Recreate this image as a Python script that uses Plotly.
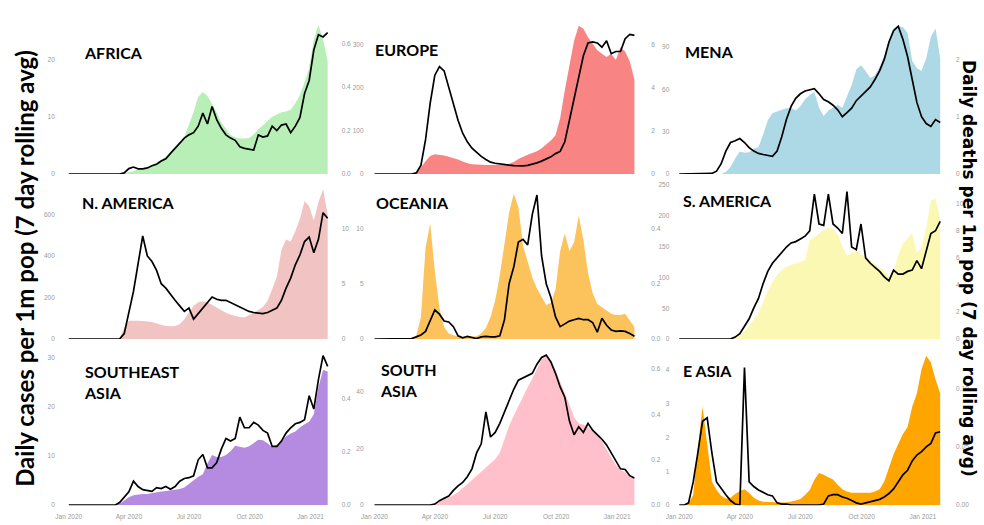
import plotly.graph_objects as go
import pandas as pd

# ---------------- data (weekly samples, 1 Jan 2020 .. 27 Jan 2021) ----------------
dates = pd.date_range("2020-01-01", periods=57, freq="7D")
tick_dates = ["2020-01-01", "2020-04-01", "2020-07-01", "2020-10-01", "2021-01-01"]
tick_text = ["Jan 2020", "Apr 2020", "Jul 2020", "Oct 2020", "Jan 2021"]

regions = ["AFRICA", "EUROPE", "MENA", "N. AMERICA", "OCEANIA", "S. AMERICA",
           "SOUTHEAST<br>ASIA", "SOUTH<br>ASIA", "E ASIA"]

africa_cases = [0]*12 + [0.1, 0.3, 0.5, 0.7, 0.9, 1.2, 1.6, 2.0, 2.5, 3.0, 3.8, 4.6, 5.5, 6.5, 8.5, 10.8,
                13.5, 14.3, 13.6, 12.3, 10.8, 9.0, 7.8, 6.8, 6.4, 6.2, 6.2, 6.3, 6.9, 7.8, 8.5, 9.2,
                10.0, 10.4, 10.8, 10.9, 11.2, 12.3, 13.8, 16.0, 18.5, 23.5, 26.0, 23.5, 19.7]
africa_deaths = [0]*12 + [0.005, 0.025, 0.032, 0.024, 0.024, 0.028, 0.038, 0.045, 0.06, 0.07, 0.095, 0.12,
                 0.14, 0.165, 0.18, 0.19, 0.22, 0.28, 0.23, 0.31, 0.25, 0.21, 0.18, 0.165, 0.155, 0.125,
                 0.118, 0.115, 0.11, 0.18, 0.17, 0.175, 0.22, 0.2, 0.225, 0.23, 0.19, 0.22, 0.26, 0.37,
                 0.43, 0.57, 0.64, 0.63, 0.65]

europe_cases = [0]*9 + [3, 15, 30, 42, 46, 45, 43, 40, 37, 34, 29, 25, 23, 22, 21.5, 21, 21, 21, 21, 22,
                24, 28, 35, 41, 45, 49, 53, 60, 68, 78, 90, 130, 195, 250, 310, 345, 338, 318, 302,
                288, 280, 272, 280, 265, 295, 285, 262, 220]
europe_deaths = [0]*9 + [0.05, 0.4, 1.6, 3.3, 4.6, 5.0, 4.8, 4.0, 3.2, 2.5, 1.9, 1.5, 1.2, 1.0, 0.82, 0.68,
                 0.55, 0.5, 0.46, 0.43, 0.41, 0.39, 0.38, 0.38, 0.4, 0.45, 0.52, 0.6, 0.7, 0.8, 0.95,
                 1.05, 1.5, 2.5, 3.6, 4.6, 5.5, 6.1, 6.15, 6.1, 5.9, 6.2, 5.6, 5.7, 5.7, 6.3, 6.5, 6.45]

mena_cases = [0]*10 + [1.5, 5, 11, 16, 15, 15.5, 18, 19, 28, 38, 43, 44.5, 45.5, 46.5, 46.8, 45, 48, 53,
              56, 58, 47, 41, 45, 47, 49, 47, 55, 63, 74, 77, 73, 68, 70, 76, 84, 95, 103, 105, 104,
              100, 80, 75, 73, 82, 97, 103, 82]
mena_deaths = [0]*7 + [0.01, 0.05, 0.18, 0.4, 0.55, 0.58, 0.62, 0.55, 0.46, 0.4, 0.36, 0.34, 0.33, 0.31,
               0.4, 0.65, 0.95, 1.18, 1.32, 1.4, 1.45, 1.47, 1.49, 1.4, 1.3, 1.26, 1.2, 1.12, 1.0, 1.07,
               1.15, 1.28, 1.36, 1.43, 1.52, 1.65, 1.8, 2.0, 2.3, 2.5, 2.58, 2.35, 2.05, 1.65, 1.25,
               1.0, 0.88, 0.83, 0.95, 0.9]

namerica_cases = [0]*11 + [5, 55, 88, 90, 89, 87, 85, 82, 75, 68, 63, 62, 63, 72, 95, 130, 160, 178, 183,
                  178, 165, 150, 138, 127, 118, 111, 106, 104, 115, 127, 140, 155, 185, 240, 300, 430,
                  480, 470, 520, 580, 665, 640, 570, 660, 722, 600]
namerica_deaths = [0]*12 + [0.5, 2.5, 4.3, 6.8, 9.3, 7.5, 7.0, 6.2, 5.0, 4.6, 4.0, 3.5, 3.0, 2.5, 2.8,
                   1.8, 2.3, 2.8, 3.3, 3.8, 3.6, 3.5, 3.5, 3.3, 3.1, 2.9, 2.7, 2.5, 2.4, 2.35, 2.3, 2.4,
                   2.6, 2.8, 3.5, 4.6, 5.5, 6.7, 7.6, 8.8, 9.2, 7.8, 9.0, 11.4, 10.9]

oceania_cases = [0]*9 + [0.3, 2.0, 8.3, 10.5, 6.2, 2.8, 1.1, 0.5, 0.35, 0.25, 0.2, 0.2, 0.2, 0.25, 0.5,
                 1.0, 2.0, 3.5, 5.8, 8.5, 11.5, 13.2, 12.0, 8.5, 7.0, 5.6, 4.6, 3.8, 3.1, 3.3, 4.5, 8.0,
                 9.6, 8.0, 8.8, 11.2, 9.0, 6.0, 4.2, 3.2, 2.9, 2.6, 2.3, 2.2, 2.2, 2.3, 1.7, 1.1]
oceania_deaths = [0]*8 + [0.002, 0.008, 0.015, 0.028, 0.065, 0.105, 0.09, 0.065, 0.062, 0.045, 0.012,
                  0.005, 0.01, 0.005, 0.002, 0.008, 0.01, 0.008, 0.008, 0.012, 0.07, 0.2, 0.26, 0.35,
                  0.36, 0.34, 0.45, 0.52, 0.3, 0.2, 0.15, 0.08, 0.045, 0.055, 0.065, 0.07, 0.075, 0.07,
                  0.07, 0.06, 0.025, 0.075, 0.05, 0.033, 0.028, 0.03, 0.028, 0.02, 0.01]

samerica_cases = [0]*12 + [1, 6, 13, 22, 32, 42, 60, 78, 92, 104, 112, 117, 120, 123, 126, 128, 160, 166,
                  172, 177, 180, 178, 170, 150, 135, 140, 142, 138, 133, 128, 122, 117, 110, 102, 110,
                  135, 155, 164, 172, 140, 148, 180, 225, 228, 195]
samerica_deaths = [0]*12 + [0.15, 0.4, 0.95, 1.5, 2.3, 3.0, 4.1, 5.0, 5.6, 6.0, 6.4, 6.8, 7.1, 7.2, 7.4,
                   7.6, 8.0, 10.7, 8.5, 8.4, 10.7, 8.5, 8.2, 7.8, 10.9, 6.8, 6.6, 8.5, 6.0, 5.6, 5.3,
                   5.0, 4.6, 4.3, 5.1, 4.8, 4.8, 5.0, 5.1, 5.8, 5.2, 6.5, 7.8, 8.0, 8.7]

seasia_cases = [0]*10 + [0.05, 0.3, 0.9, 1.6, 2.0, 2.2, 2.3, 2.3, 2.5, 2.6, 2.8, 2.9, 3.0, 3.1, 3.3, 3.6,
                4.3, 5.0, 5.8, 6.3, 8.5, 10.2, 9.8, 9.8, 10.2, 11.0, 12.1, 11.9, 11.7, 12.0, 12.6, 13.3,
                13.2, 12.6, 11.8, 12.3, 13.0, 14.0, 14.6, 15.0, 15.8, 16.5, 17.0, 18.5, 24.0, 27.5, 27.2]
seasia_deaths = [0]*11 + [0.01, 0.03, 0.05, 0.09, 0.07, 0.058, 0.055, 0.052, 0.066, 0.062, 0.07, 0.06,
                 0.07, 0.09, 0.1, 0.103, 0.11, 0.17, 0.19, 0.14, 0.14, 0.16, 0.21, 0.25, 0.24, 0.25,
                 0.33, 0.29, 0.29, 0.31, 0.3, 0.28, 0.27, 0.22, 0.22, 0.24, 0.27, 0.29, 0.305, 0.31,
                 0.32, 0.41, 0.36, 0.47, 0.56, 0.52]

sasia_cases = [0]*12 + [0.1, 0.5, 1.1, 1.8, 2.6, 3.5, 4.6, 6.0, 7.5, 9.0, 10.5, 12.0, 13.4, 14.8, 16.2,
               18.5, 23.0, 28.0, 31.5, 35.0, 38.5, 41.5, 44.5, 48.0, 51.5, 52.3, 50.5, 47.5, 43.5, 40.0,
               35.5, 31.0, 28.8, 28.4, 27.5, 26.0, 25.0, 22.5, 19.5, 16.8, 14.2, 12.5, 11.5, 10.2, 9.5]
sasia_deaths = [0]*13 + [0.005, 0.02, 0.03, 0.04, 0.065, 0.085, 0.1, 0.125, 0.16, 0.23, 0.27, 0.41, 0.3,
                0.32, 0.36, 0.41, 0.46, 0.51, 0.55, 0.56, 0.57, 0.58, 0.62, 0.65, 0.66, 0.63, 0.58,
                0.52, 0.475, 0.37, 0.31, 0.345, 0.32, 0.36, 0.33, 0.31, 0.29, 0.265, 0.23, 0.19, 0.16,
                0.157, 0.13, 0.12]

easia_cases = [0, 0, 0.05, 0.3, 1.7, 2.9, 1.8, 0.7, 0.45, 0.28, 0.2, 0.22, 0.33, 0.42, 0.47, 0.36, 0.22,
               0.14, 0.1, 0.09, 0.08, 0.08, 0.08, 0.08, 0.1, 0.14, 0.18, 0.3, 0.45, 0.75, 0.95, 0.9,
               0.82, 0.76, 0.6, 0.47, 0.4, 0.37, 0.37, 0.37, 0.37, 0.37, 0.4, 0.47, 0.7, 1.1, 1.5, 1.8,
               2.1, 2.3, 2.9, 3.3, 4.0, 4.4, 4.2, 3.7, 3.3]
easia_deaths = [0, 0, 0.002, 0.02, 0.045, 0.072, 0.075, 0.045, 0.02, 0.014, 0.009, 0.004, 0.001, 0.0,
                0.118, 0.02, 0.016, 0.013, 0.011, 0.009, 0.008, 0.002, 0.001, 0.001, 0, 0, 0, 0, 0, 0,
                0, 0.001, 0.008, 0.009, 0.009, 0.007, 0.006, 0.004, 0.002, 0.001, 0.002, 0.003, 0.004,
                0.005, 0.007, 0.01, 0.014, 0.02, 0.026, 0.03, 0.038, 0.043, 0.046, 0.05, 0.053, 0.062,
                0.063]

cases_series = [africa_cases, europe_cases, mena_cases, namerica_cases, oceania_cases, samerica_cases,
                seasia_cases, sasia_cases, easia_cases]
deaths_series = [africa_deaths, europe_deaths, mena_deaths, namerica_deaths, oceania_deaths,
                 samerica_deaths, seasia_deaths, sasia_deaths, easia_deaths]

cases_ticks = [[0, 10, 20], [0, 100, 200, 300], [0, 30, 60, 90],
               [0, 200, 400, 600], [0, 5, 10], [0, 50, 100, 150, 200, 250],
               [0, 10, 20, 30], [0, 20, 40], [0, 1, 2, 3, 4]]
deaths_ticks = [[0, 0.2, 0.4, 0.6], [0, 2, 4, 6], [0, 1, 2],
                [0, 5, 10], [0, 0.2, 0.4], [0, 2, 4, 6, 8, 10],
                [0, 0.2, 0.4], [0, 0.2, 0.4, 0.6], [0, 0.05, 0.10]]
deaths_tick_text = [["0.0", "0.2", "0.4", "0.6"], ["0", "2", "4", "6"], ["0", "1", "2"],
                    ["0", "5", "10"], ["0.0", "0.2", "0.4"], ["0", "2", "4", "6", "8", "10"],
                    ["0.0", "0.2", "0.4"], ["0.0", "0.2", "0.4", "0.6"], ["0.00", "0.05", "0.10"]]

# ---------------- styling / layout geometry ----------------
fill_colors = ["#b8efb6", "#f98484", "#add8e6", "#f1c3c3", "#fcc35c", "#fbf8b3",
               "#b48be0", "#ffc0cb", "#ffa500"]
cases_max = [27.6, 368, 112, 748, 14.1, 251.6, 31.8, 55, 4.6]
deaths_max = [0.727, 7.36, 2.76, 14.0, 0.56, 11.46, 0.585, 0.687, 0.134]

W, H = 984, 525
cols = [(52, 338, 65, 325), (362, 649, 372, 633), (669, 955, 678, 940)]
rows = [(13, 173), (183, 340), (350, 508)]
label_pos = [(78, 50), (371, 47), (682, 49), (76, 202), (372, 202), (680, 200),
             (78, 383), (376, 381), (680, 372)]

n_days = (dates[-1] - dates[0]).days
tick_font = dict(family="Liberation Sans", size=6.5, color="#9a9a9a")

fig = go.Figure()
layout = {}
for i in range(9):
    r, c = divmod(i, 3)
    L, R, x0, x1 = cols[c]
    top, zero = rows[r]
    ppd = (x1 - x0) / n_days
    xs = dates[0] + pd.Timedelta(days=(L - x0) / ppd)
    xe = dates[0] + pd.Timedelta(days=(R - x0) / ppd)
    n = i + 1
    xa, ya, yb = f"x{n}", f"y{2*n-1}", f"y{2*n}"
    xkey = "xaxis" if n == 1 else f"xaxis{n}"
    yakey = "yaxis" if n == 1 else f"yaxis{2*n-1}"
    ybkey = f"yaxis{2*n}"
    layout[xkey] = dict(domain=[L / W, R / W], range=[xs, xe], anchor=ya,
                        showgrid=False, zeroline=False, showline=False,
                        ticks="outside", ticklen=5, tickcolor="rgba(0,0,0,0)",
                        tickvals=tick_dates, ticktext=tick_text,
                        showticklabels=(r == 2), tickfont=tick_font)
    layout[yakey] = dict(domain=[1 - zero / H, 1 - top / H], range=[0, cases_max[i]], anchor=xa,
                         showgrid=False, zeroline=False, showline=False, ticks="",
                         tickvals=cases_ticks[i], tickfont=tick_font)
    layout[ybkey] = dict(domain=[1 - zero / H, 1 - top / H], range=[0, deaths_max[i]], anchor=xa,
                         overlaying=ya, side="right",
                         showgrid=False, zeroline=False, showline=False, ticks="",
                         tickvals=deaths_ticks[i], ticktext=deaths_tick_text[i], tickfont=tick_font)
    fig.add_trace(go.Scatter(x=dates, y=cases_series[i], xaxis=xa, yaxis=ya, mode="lines",
                             line=dict(width=0, color=fill_colors[i]), fill="tozeroy",
                             fillcolor=fill_colors[i], hoverinfo="skip", showlegend=False))
    fig.add_trace(go.Scatter(x=dates, y=deaths_series[i], xaxis=xa, yaxis=yb, mode="lines",
                             line=dict(width=1.7, color="black"), showlegend=False))

annotations = []
for i in range(9):
    px, py = label_pos[i]
    annotations.append(dict(xref="paper", yref="paper", x=px / W, y=1 - py / H,
                            xanchor="left", yanchor="middle", align="left", showarrow=False,
                            text=f"<b>{regions[i]}</b>",
                            font=dict(family="Lato", size=16, color="black")))
annotations.append(dict(xref="paper", yref="paper", x=21 / W, y=1 - 268 / H, showarrow=False,
                        xanchor="center", yanchor="middle", textangle=-90,
                        text="<b>Daily cases per 1m pop (7 day rolling avg)</b>",
                        font=dict(family="Lato", size=24, color="black")))
annotations.append(dict(xref="paper", yref="paper", x=969 / W, y=1 - 268 / H, showarrow=False,
                        xanchor="center", yanchor="middle", textangle=90,
                        text="<b>Daily deaths per 1m pop (7 day rolling avg)</b>",
                        font=dict(family="DejaVu Sans", size=17, color="black")))

fig.update_layout(width=W, height=H, margin=dict(l=0, r=0, t=0, b=0),
                  paper_bgcolor="white", plot_bgcolor="white", showlegend=False,
                  annotations=annotations, **layout)
fig.write_html("out.html", config={"displayModeBar": False},
               post_script="document.body.style.margin='0';document.body.style.overflow='hidden';")
